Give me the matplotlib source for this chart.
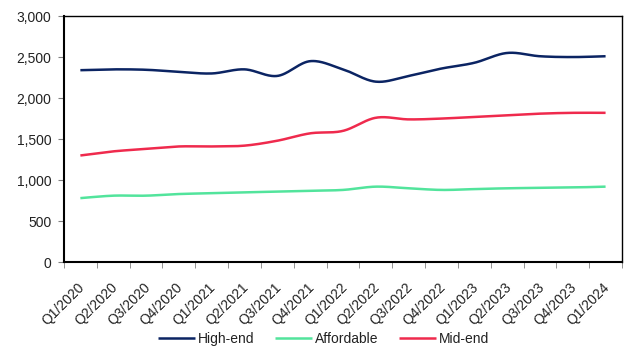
import numpy as np
import matplotlib.pyplot as plt
import matplotlib.transforms as mtransforms
from matplotlib.ticker import FuncFormatter, MultipleLocator

plt.rcParams['font.family'] = ['Liberation Sans', 'DejaVu Sans']

quarters = ['Q1/2020', 'Q2/2020', 'Q3/2020', 'Q4/2020',
            'Q1/2021', 'Q2/2021', 'Q3/2021', 'Q4/2021',
            'Q1/2022', 'Q2/2022', 'Q3/2022', 'Q4/2022',
            'Q1/2023', 'Q2/2023', 'Q3/2023', 'Q4/2023', 'Q1/2024']
high_end = [2340, 2350, 2345, 2320, 2300, 2350, 2270, 2450, 2350,
            2200, 2270, 2360, 2430, 2550, 2510, 2500, 2510]
affordable = [780, 810, 810, 830, 840, 850, 860, 870, 880,
              920, 900, 880, 890, 900, 905, 910, 920]
mid_end = [1300, 1350, 1380, 1410, 1410, 1420, 1480, 1570, 1600,
           1760, 1740, 1750, 1770, 1790, 1810, 1820, 1820]


def smooth(y, n=30):
    # spreadsheet-style smoothed line: bezier segments with catmull-rom handles
    y = np.asarray(y, float)
    x = np.arange(len(y), dtype=float)
    pts = np.column_stack([x, y])
    out = []
    for i in range(len(pts) - 1):
        p0 = pts[max(i - 1, 0)]
        p1 = pts[i]
        p2 = pts[i + 1]
        p3 = pts[min(i + 2, len(pts) - 1)]
        c1 = p1 + (p2 - p0) / 6
        c2 = p2 - (p3 - p1) / 6
        t = np.linspace(0, 1, n, endpoint=(i == len(pts) - 2))[:, None]
        seg = ((1 - t) ** 3 * p1 + 3 * (1 - t) ** 2 * t * c1
               + 3 * (1 - t) * t ** 2 * c2 + t ** 3 * p2)
        out.append(seg)
    out = np.vstack(out)
    return out[:, 0], out[:, 1]


fig = plt.figure(figsize=(6.27, 3.49), dpi=100)
ax = fig.add_axes([0.102, 0.249, 0.890, 0.705])

series = [('High-end', high_end, '#0b2463'),
          ('Affordable', affordable, '#52e49c'),
          ('Mid-end', mid_end, '#ef2a4d')]
for name, vals, col in series:
    xs, ys = smooth(vals)
    ax.plot(xs, ys, color=col, lw=1.8, label=name, solid_capstyle='butt')

ax.set_xlim(-0.5, len(quarters) - 0.5)
ax.set_ylim(0, 3000)
ax.yaxis.set_major_locator(MultipleLocator(500))
ax.yaxis.set_major_formatter(FuncFormatter(lambda v, p: f'{int(v):,}'))

ax.set_xticks(range(len(quarters)))
ax.set_xticklabels(quarters, rotation=45, ha='right', va='top',
                   rotation_mode='anchor')
ax.set_xticks(np.arange(-0.5, len(quarters)), minor=True)
ax.tick_params(axis='x', which='major', length=0, pad=13, labelsize=10,
               labelcolor='#222222')
ax.tick_params(axis='x', which='minor', length=4, color='#808080')
ax.tick_params(axis='y', length=4, color='#808080', labelsize=10, pad=5,
               labelcolor='#222222')

# nudge the rotated quarter labels a little to the left
shift = mtransforms.ScaledTranslation(-3 / 100, 0, fig.dpi_scale_trans)
for lbl in ax.get_xticklabels():
    lbl.set_transform(lbl.get_transform() + shift)

for s in ax.spines.values():
    s.set_color('black')
    s.set_linewidth(1.0)
ax.spines['left'].set_linewidth(1.5)
ax.spines['bottom'].set_linewidth(1.5)

fig.legend(loc='center', bbox_to_anchor=(0.516, 0.029), ncol=3, frameon=False,
           fontsize=10, handlelength=2.7, handletextpad=0.2, columnspacing=1.45,
           labelcolor='#222222')

fig.savefig('out.png', dpi=100)
